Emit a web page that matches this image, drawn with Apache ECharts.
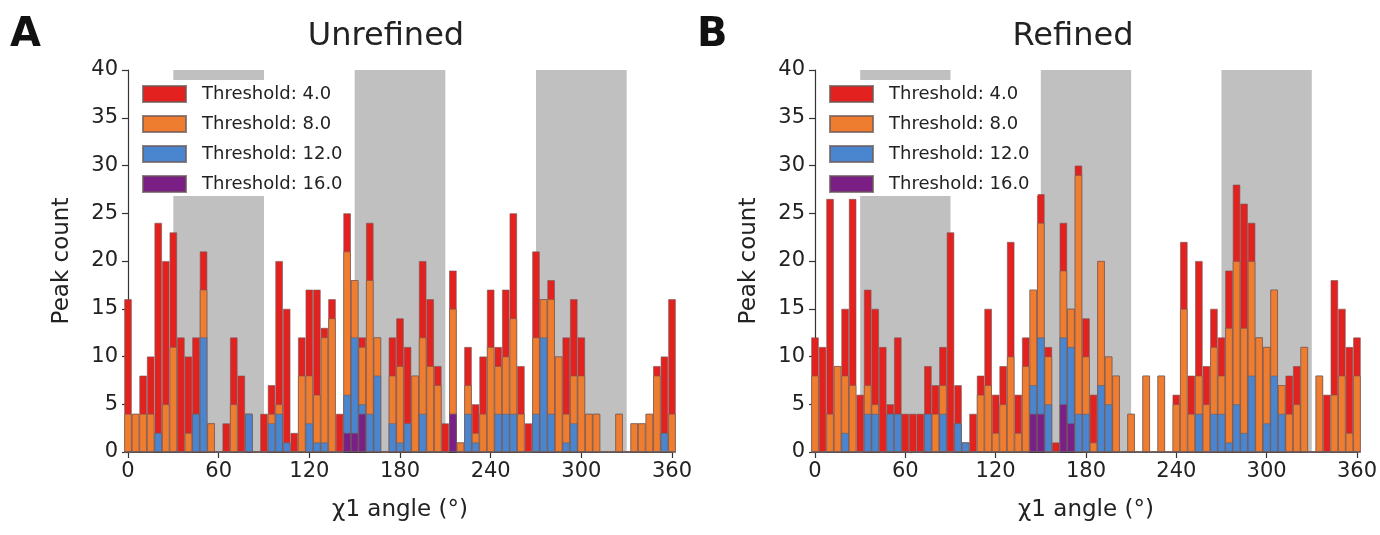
<!DOCTYPE html>
<html>
<head>
<meta charset="utf-8">
<script src="https://cdn.jsdelivr.net/npm/echarts@6/dist/echarts.min.js"></script>
<style>
html,body{margin:0;padding:0;background:#fff;}
#chart{width:1380px;height:535px;}
</style>
</head>
<body>
<div id="chart"></div>
<script>
// Bin centres (degrees), 5-degree bins
const angles = [0,5,10,15,20,25,30,35,40,45,50,55,60,65,70,75,80,85,90,95,100,105,110,115,120,125,130,135,140,145,150,155,160,165,170,175,180,185,190,195,200,205,210,215,220,225,230,235,240,245,250,255,260,265,270,275,280,285,290,295,300,305,310,315,320,325,330,335,340,345,350,355,360];

const seriesNames = ['Threshold: 4.0','Threshold: 8.0','Threshold: 12.0','Threshold: 16.0'];
const seriesColors = ['#e3211f','#ef7d30','#4a86cf','#7a1f86'];

// Panel A: Unrefined (heights per threshold, overlaid)
const unrefT4  = [16,4,8,10,24,20,23,12,10,12,21,3,0,3,12,8,4,0,4,7,20,15,2,12,17,17,13,16,4,25,18,12,24,12,0,12,14,11,8,20,16,9,3,19,1,11,5,10,17,11,17,25,9,3,21,16,18,10,12,16,12,4,4,0,0,4,0,3,3,4,9,10,16];
const unrefT8  = [4,4,4,4,2,5,11,0,2,4,17,3,0,0,5,0,4,0,0,4,5,1,0,8,8,6,12,14,0,21,18,11,18,12,0,8,9,3,8,12,9,7,0,15,1,7,2,4,11,9,10,14,4,0,12,16,16,10,4,8,8,4,4,0,0,4,0,3,3,4,8,2,4];
const unrefT12 = [0,0,0,0,2,0,0,0,0,4,12,0,0,0,0,0,4,0,0,3,4,1,0,0,3,1,1,0,0,6,12,5,4,8,0,3,1,3,0,4,0,0,0,4,0,4,1,0,0,4,4,4,0,0,4,12,4,0,1,3,0,0,0,0,0,0,0,0,0,0,0,2,0];
const unrefT16 = [0,0,0,0,0,0,0,0,0,0,0,0,0,0,0,0,0,0,0,0,0,0,0,0,0,0,0,0,0,2,2,4,0,0,0,0,0,0,0,0,0,0,0,4,0,0,0,0,0,0,0,0,0,0,0,0,0,0,0,0,0,0,0,0,0,0,0,0,0,0,0,0,0];

// Panel B: Refined
const refT4  = [12,11,26.5,9,15,26.5,6,17,15,11,5,12,4,4,4,9,7,11,23,7,1,4,8,15,6,9,22,6,12,17,27,11,1,24,15,30,14,6,20,10,8,0,4,0,8,0,8,0,6,22,8,20,9,15,12,19,28,26,24,12,11,17,7,8,9,11,0,8,6,18,15,11,12];
const refT8  = [8,0,4,9,8,7,0,7,5,0,4,4,0,0,0,4,4,7,0,3,1,0,6,7,2,5,10,2,9,17,24,10,0,19,15,29,10,1,20,10,8,0,4,0,8,0,8,0,5,15,4,8,5,11,8,13,20,13,20,12,11,17,7,4,5,11,0,8,0,6,8,2,8];
const refT12 = [0,0,0,0,2,0,0,4,4,0,4,4,0,0,0,4,0,4,0,3,1,0,0,0,0,0,0,0,0,7,12,5,0,12,11,4,4,0,7,5,0,0,0,0,0,0,0,0,0,0,0,4,0,4,4,1,5,2,8,0,3,8,4,0,0,0,0,0,0,0,0,0,0];
const refT16 = [0,0,0,0,0,0,0,0,0,0,0,0,0,0,0,0,0,0,0,0,0,0,0,0,0,0,0,0,0,4,4,0,0,5,3,0,0,0,0,0,0,0,0,0,0,0,0,0,0,0,0,0,0,0,0,0,0,0,0,0,0,0,0,0,0,0,0,0,0,0,0,0,0];

// Shaded angle ranges
const shadeStart = [30,150,270];
const shadeEnd   = [90,210,330];

const xTicksMin = 0, xTicksMax = 360, xTickStep = 60;
const yMin = 0, yMax = 40, yStep = 5;

const FONT = 'DejaVu Sans';
const panels = [
  {left:128, width:544, title:'Unrefined', letter:'A', data:[unrefT4,unrefT8,unrefT12,unrefT16]},
  {left:815, width:544, title:'Refined', letter:'B', data:[refT4,refT8,refT12,refT16]}
];
const gridTop = 70, gridHeight = 382;

const chart = echarts.init(document.getElementById('chart'), null, {renderer:'canvas'});

const grids = [], xAxes = [], yAxes = [], series = [], legends = [], graphics = [];
panels.forEach((p, pi) => {
  grids.push({left:p.left, top:gridTop, width:p.width, height:gridHeight, containLabel:false});
  xAxes.push({
    type:'value', gridIndex:pi, min:xTicksMin, max:xTicksMax, interval:xTickStep,
    name:'\u03c71 angle (\u00b0)', nameLocation:'middle', nameGap:47,
    nameTextStyle:{fontFamily:FONT, fontSize:23, color:'#222'},
    axisLine:{show:true, lineStyle:{color:'#333', width:1.2}},
    axisTick:{show:true, length:6, lineStyle:{color:'#333', width:1.2}},
    axisLabel:{fontFamily:FONT, fontSize:21, color:'#222', margin:9},
    splitLine:{show:false}
  });
  yAxes.push({
    type:'value', gridIndex:pi, min:yMin, max:yMax, interval:yStep,
    name:'Peak count', nameLocation:'middle', nameGap:54, nameRotate:90,
    nameTextStyle:{fontFamily:FONT, fontSize:23, color:'#222'},
    axisLine:{show:true, lineStyle:{color:'#333', width:1.2}},
    axisTick:{show:true, length:6, lineStyle:{color:'#333', width:1.2}},
    axisLabel:{fontFamily:FONT, fontSize:21, color:'#222', margin:10},
    splitLine:{show:false}
  });
  // shaded regions
  series.push({
    type:'custom', xAxisIndex:pi, yAxisIndex:pi, z:1, silent:true,
    data: shadeStart.map((s, i) => [s, shadeEnd[i], 0]),
    encode:{x:[0,1], y:2},
    renderItem: function(params, api){
      const p0 = api.coord([api.value(0), yMax]);
      const p1 = api.coord([api.value(1), yMin]);
      return {type:'rect', shape:{x:p0[0], y:p0[1], width:p1[0]-p0[0], height:p1[1]-p0[1]},
              style:{fill:'#c0c0c0'}};
    }
  });
  const bw = p.width * 5 / 360;
  p.data.forEach((vals, ti) => {
    series.push({
      type:'bar', name:seriesNames[ti], xAxisIndex:pi, yAxisIndex:pi, z:2,
      barWidth:bw, barGap:'-100%', clip:true,
      itemStyle:{color:seriesColors[ti], borderColor:'rgba(110,90,90,0.75)', borderWidth:0.8},
      emphasis:{disabled:true},
      data: angles.map((a, i) => [a, vals[i]])
    });
  });
  legends.push({
    data:seriesNames, orient:'vertical', left:p.left + 6, top:80,
    backgroundColor:'#fff', padding:[5, 8, 3, 8],
    itemWidth:43, itemHeight:16, itemGap:12, icon:'rect',
    selectedMode:false,
    textStyle:{fontFamily:FONT, fontSize:18, color:'#222', padding:[0,0,0,11]}
  });
  graphics.push({type:'text', left:p.left - 118, top:16, style:{text:p.letter, font:'bold 40px "' + FONT + '"', fill:'#111'}});
  graphics.push({type:'text', x:p.left + 258, y:37, style:{text:p.title, font:'32px "' + FONT + '"', fill:'#222', textAlign:'center', textVerticalAlign:'middle'}});
});

chart.setOption({
  animation:false,
  backgroundColor:'#fff',
  grid:grids, xAxis:xAxes, yAxis:yAxes, series:series, legend:legends, graphic:graphics
});
</script>
</body>
</html>
